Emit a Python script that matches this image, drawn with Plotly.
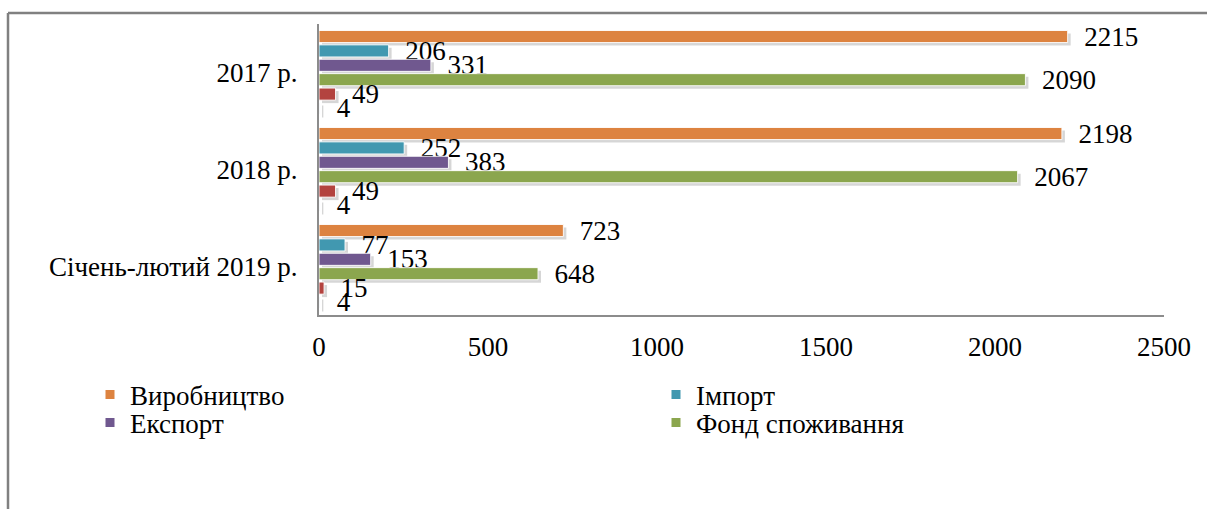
import plotly.graph_objects as go

# Categories (top to bottom) and series values
categories = ["2017 р.", "2018 р.", "Січень-лютий 2019 р."]
series_names = ["Виробництво", "Імпорт", "Експорт", "Фонд споживання", "Запаси", "Інше"]
vyrobnytstvo = [2215, 2198, 723]
import_vals = [206, 252, 77]
eksport = [331, 383, 153]
fond_spozhyvannia = [2090, 2067, 648]
series5 = [49, 49, 15]
series6 = [4, 4, 4]
series_values = [vyrobnytstvo, import_vals, eksport, fond_spozhyvannia, series5, series6]
colors = ["#DD8340", "#4198B0", "#70588F", "#8BA64E", "#B3433F", "#EEF2F7"]
# legend layout: two rows, two columns (only the first four series are listed)
legend_rows = [["Виробництво", "Імпорт"], ["Експорт", "Фонд споживання"]]

x_ticks = [0, 500, 1000, 1500, 2000, 2500]

W, H = 1207, 509
SH = 3                       # shadow offset in pixels
L, R, T, B = 319, 43 - SH, 24, 194 - SH
PW, PH = W - L - R, H - T - B
FONT = "Liberation Serif, Times New Roman, serif"
FS = 27


def px_x(p):
    return (p - L) / PW


def px_y(p):
    return (H - B - p) / PH


def serif(size=FS):
    return dict(family=FONT, size=size, color="black")


fig = go.Figure()

# Soft drop shadows drawn on a slightly shifted, hidden subplot
for vals in series_values:
    fig.add_trace(go.Bar(
        x=vals, y=categories, orientation="h",
        marker=dict(color="rgba(0,0,0,0.16)", line=dict(width=0)),
        xaxis="x", yaxis="y", showlegend=False, hoverinfo="skip",
    ))

# Main bars with value labels
for name, vals, col in zip(series_names, series_values, colors):
    fig.add_trace(go.Bar(
        x=vals, y=categories, orientation="h", name=name,
        marker=dict(color=col, line=dict(color="rgba(255,255,255,0.9)", width=1)),
        text=vals, texttemplate="\u00a0\u00a0%{x}", textposition="outside",
        constraintext="none", cliponaxis=False,
        textfont=serif(), outsidetextfont=serif(),
        xaxis="x2", yaxis="y2", showlegend=False,
    ))

# Legend entries with small square swatches, one legend per row
color_of = dict(zip(series_names, colors))
legend_ids = ["legend", "legend2"]
for lid, row in zip(legend_ids, legend_rows):
    for col_idx, name in enumerate(row):
        fig.add_trace(go.Scatter(
            x=[None], y=[None], mode="markers", name=name,
            marker=dict(symbol="square", size=9, color=color_of[name]),
            xaxis="x2", yaxis="y2", showlegend=True, legend=lid,
            legendwidth=521 if col_idx == 0 else 260,
        ))


def legend_box(row_center):
    return dict(orientation="h", x=px_x(90), y=px_y(row_center),
                xanchor="left", yanchor="middle", entrywidthmode="pixels",
                traceorder="normal", font=serif(), bgcolor="rgba(0,0,0,0)",
                itemclick=False, itemdoubleclick=False)


fig.update_layout(
    width=W, height=H,
    margin=dict(l=L, r=R, t=T, b=B),
    paper_bgcolor="white", plot_bgcolor="rgba(0,0,0,0)",
    barmode="group", bargap=0.11, bargroupgap=0.16,
    font=serif(),
    xaxis=dict(domain=[SH / PW, 1], range=[0, 2500], visible=False, anchor="y"),
    yaxis=dict(domain=[0, 1 - SH / PH], visible=False, anchor="x",
               categoryorder="array", categoryarray=categories, autorange="reversed"),
    xaxis2=dict(domain=[0, 1 - SH / PW], range=[0, 2500], anchor="y2", tickvals=x_ticks,
                showgrid=False, zeroline=False, showline=True, linecolor="#8C8C8C",
                linewidth=1.5, ticks="", ticklabelstandoff=7, tickfont=serif()),
    yaxis2=dict(domain=[SH / PH, 1], anchor="x2", categoryorder="array",
                categoryarray=categories, autorange="reversed",
                showgrid=False, zeroline=False, showline=True, linecolor="#8C8C8C",
                linewidth=2, ticks="", ticklabelstandoff=14, tickfont=serif()),
    legend=legend_box(395),
    legend2=legend_box(423),
    shapes=[
        dict(type="line", xref="paper", yref="paper",
             x0=px_x(8), x1=px_x(8), y0=px_y(13), y1=px_y(H + 5),
             line=dict(color="#808080", width=2.5)),
        dict(type="line", xref="paper", yref="paper",
             x0=px_x(8), x1=px_x(W + 5), y0=px_y(13), y1=px_y(13),
             line=dict(color="#808080", width=2.5)),
    ],
)

fig.write_html("out.html")
